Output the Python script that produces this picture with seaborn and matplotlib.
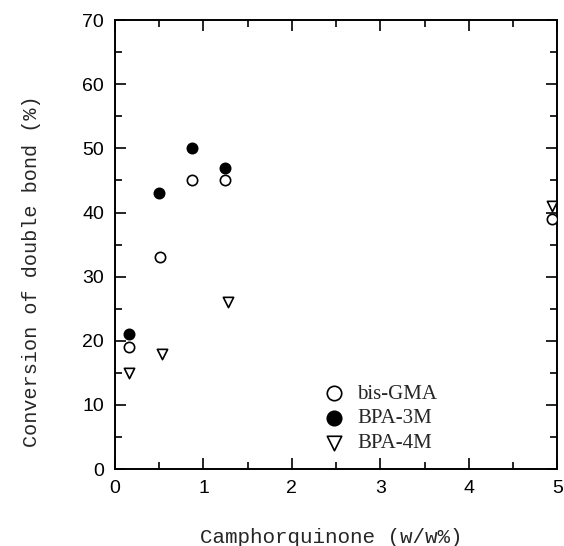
import matplotlib
matplotlib.use("Agg")
import matplotlib.pyplot as plt
from matplotlib.ticker import MultipleLocator
import seaborn as sns
import pandas as pd

# camphorquinone content (w/w%) and double-bond conversion (%)
bis_gma_x = [0.16, 0.51, 0.87, 1.24, 4.94]
bis_gma_y = [19, 33, 45, 45, 39]
bpa3m_x = [0.16, 0.50, 0.87, 1.24]
bpa3m_y = [21, 43, 50, 47]
bpa4m_x = [0.16, 0.53, 1.28, 4.94]
bpa4m_y = [15, 18, 26, 41]

series = [
    ("bis-GMA", bis_gma_x, bis_gma_y, "o", "white"),
    ("BPA-3M", bpa3m_x, bpa3m_y, "o", "black"),
    ("BPA-4M", bpa4m_x, bpa4m_y, "v", "white"),
]

sns.set_style("ticks")

fig = plt.figure(figsize=(5.64, 5.46), dpi=100)
ax = fig.add_axes([0.204, 0.141, 0.784, 0.822])

for name, xs, ys, marker, face in series:
    df = pd.DataFrame({"x": xs, "y": ys})
    sns.scatterplot(data=df, x="x", y="y", ax=ax, marker=marker,
                    s=55, facecolor=face, edgecolor="black", linewidth=1.2,
                    label=name, zorder=3)

ax.set_xlim(0, 5)
ax.set_ylim(0, 70)
ax.xaxis.set_major_locator(MultipleLocator(1))
ax.xaxis.set_minor_locator(MultipleLocator(0.5))
ax.yaxis.set_major_locator(MultipleLocator(10))
ax.yaxis.set_minor_locator(MultipleLocator(5))
ax.tick_params(which="both", direction="in", top=True, right=True,
               width=1.2, colors="black")
ax.tick_params(which="major", length=8, labelsize=14, pad=8)
ax.tick_params(which="minor", length=5)
for lab in ax.get_xticklabels() + ax.get_yticklabels():
    lab.set_family("Liberation Sans")
for sp in ax.spines.values():
    sp.set_linewidth(1.4)
    sp.set_color("black")

ax.set_xlabel("Camphorquinone (w/w%)", family="Liberation Mono", fontsize=15)
ax.set_ylabel("Conversion of double bond (%)", family="Liberation Mono",
              fontsize=14.5)
ax.xaxis.set_label_coords(0.489, -0.131)
ax.yaxis.set_label_coords(-0.167, 0.44)

leg = ax.legend(loc="upper left", bbox_to_anchor=(0.43, 0.208), frameon=False,
                prop={"family": "Liberation Serif", "size": 15},
                handletextpad=0.1, labelspacing=0.25, markerscale=1.4,
                borderaxespad=0)

fig.savefig("out.png", dpi=100)
